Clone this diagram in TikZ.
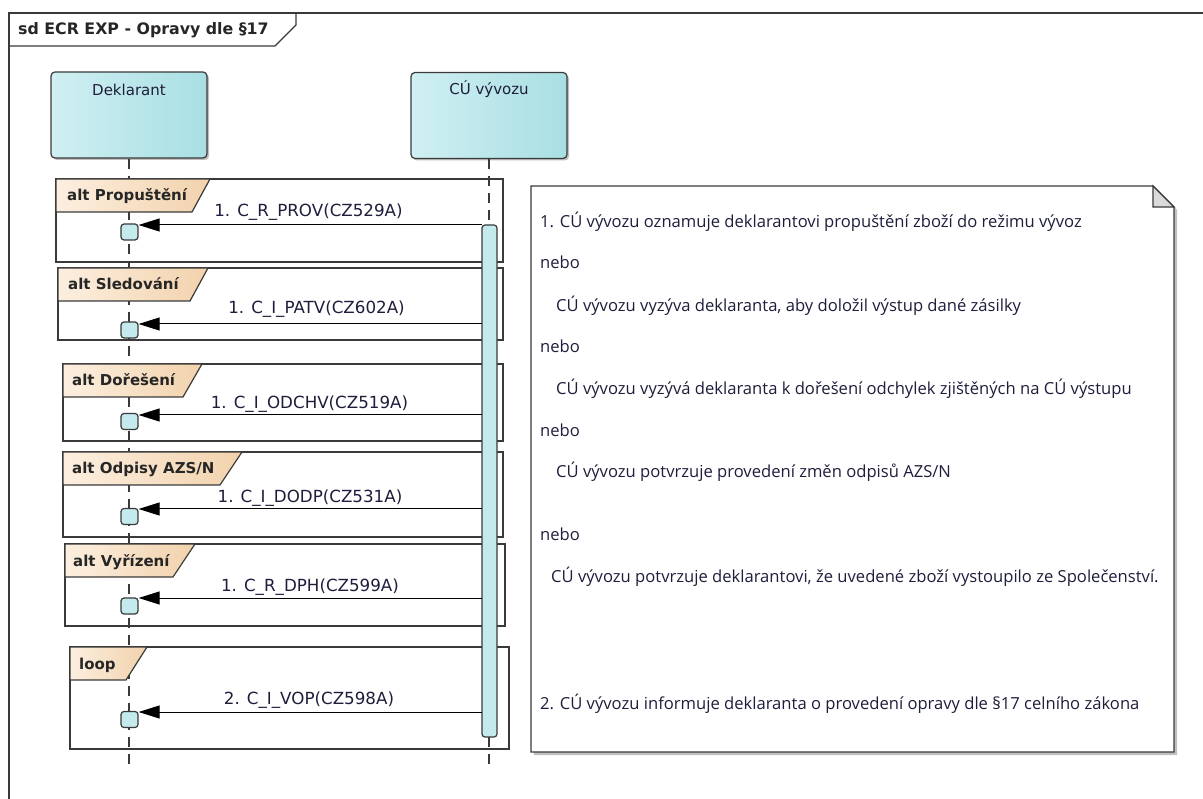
\documentclass[tikz,border=0pt]{standalone}
\usepackage{fontspec}
\setmainfont{DejaVu Sans}
\newfontfamily\notefont{Open Sans}
\usetikzlibrary{arrows.meta,shadows}
\definecolor{lbL}{HTML}{D0EFF2}
\definecolor{lbR}{HTML}{A8DFE3}
\definecolor{tabL}{HTML}{FCEFE0}
\definecolor{tabR}{HTML}{F2D2AC}
\definecolor{actfill}{HTML}{C4EAED}
\definecolor{edge}{HTML}{3A3A3A}
\definecolor{txt}{HTML}{1E1E3C}
\begin{document}
\begin{tikzpicture}[x=1pt,y=-1pt,
  lifebox/.style={draw=edge, line width=1.2pt, rounded corners=4pt, left color=lbL, right color=lbR,
     minimum width=156pt, minimum height=86pt, inner sep=0pt,
     drop shadow={shadow xshift=2pt, shadow yshift=-2pt, opacity=0.25, fill=black}},
  lname/.style={text=txt, font=\fontsize{15}{18}\selectfont, inner sep=0pt, anchor=base},
  lifeline/.style={draw=edge, line width=1.2pt, dash pattern=on 10pt off 7pt},
  frag/.style={draw=edge, line width=1.8pt},
  tabshape/.style={draw=edge, line width=1.2pt, left color=tabL, right color=tabR},
  tablabel/.style={font=\bfseries\fontsize{15}{18}\selectfont, text=black!85, anchor=base west, inner sep=0pt},
  actbar/.style={draw=edge, line width=1.2pt, fill=actfill, rounded corners=3pt, inner sep=0pt},
  recv/.style={draw=edge, line width=1.2pt, fill=actfill, rounded corners=3pt, minimum width=17pt, minimum height=16pt, inner sep=0pt},
  msg/.style={draw=black, line width=1pt, -{Triangle[length=21pt,width=13pt]}},
  mlabel/.style={font=\fontsize{16.7}{19}\selectfont, text=txt, inner sep=0pt, anchor=base},
  notetxt/.style={font=\notefont\fontsize{16.6}{19}\selectfont, text=txt, anchor=base west, inner sep=0pt},
  notebox/.style={draw=edge, line width=1.2pt, fill=white,
     drop shadow={shadow xshift=3pt, shadow yshift=-3pt, opacity=0.25, fill=black}}
]
\useasboundingbox (0,0) rectangle (1203,799);
\clip (0,0) rectangle (1203,799);
\fill[white] (0,0) rectangle (1203,799);

% frame
\draw[edge, line width=1.2pt] (9,13) rectangle (1220,820);
\draw[edge, line width=1.2pt] (9,46) -- (275,46) -- (296,25) -- (296,13);
\node[font=\bfseries\fontsize{15.8}{18}\selectfont, text=black!85, anchor=base west, inner sep=0pt] (title) at (18,35) {sd ECR EXP - Opravy dle §17};

% lifeline heads
\node[lifebox] (dek) at (129,115) {};
\node[lifebox] (cu) at (489,115.5) {};
\node[lname] (dekname) at (129,96) {Deklarant};
\node[lname] (cuname) at (489,95) {CÚ vývozu};

% lifelines
\coordinate (dend) at (129,764);
\coordinate (cend) at (489,764);
\draw[lifeline] (dek.south) -- (dend);
\draw[lifeline] (cu.south) -- (cend);

% fragments
\draw[frag] (56,179) rectangle (503,262);
\path[tabshape] (56,179) -- (210,179) -- (192,212) -- (56,212) -- cycle;
\node[tablabel] (t1) at (67,201) {alt Propuštění};

\draw[frag] (58,268) rectangle (503,340);
\path[tabshape] (58,268) -- (208,268) -- (190,301) -- (58,301) -- cycle;
\node[tablabel] (t2) at (68,290) {alt Sledování};

\draw[frag] (63,364) rectangle (503,441);
\path[tabshape] (63,364) -- (202,364) -- (183,397) -- (63,397) -- cycle;
\node[tablabel] (t3) at (72,386) {alt Dořešení};

\draw[frag] (63,452) rectangle (503,537);
\path[tabshape] (63,452) -- (242,452) -- (220,485) -- (63,485) -- cycle;
\node[tablabel] (t4) at (72,474) {alt Odpisy AZS/N};

\draw[frag] (65,544) rectangle (505,626);
\path[tabshape] (65,544) -- (195,544) -- (173,577) -- (65,577) -- cycle;
\node[tablabel] (t5) at (73,566) {alt Vyřízení};

\draw[frag] (70,647) rectangle (509,749);
\path[tabshape] (70,647) -- (147,647) -- (126,680) -- (70,680) -- cycle;
\node[tablabel] (t6) at (79,669) {loop};

% activation bar
\node[actbar, minimum width=15pt, minimum height=512pt] (act) at (489.5,481) {};

% receive boxes
\node[recv] (s1) at (129.5,232) {};
\node[recv] (s2) at (129.5,330) {};
\node[recv] (s3) at (129.5,421.5) {};
\node[recv] (s4) at (129.5,516.5) {};
\node[recv] (s5) at (129.5,606) {};
\node[recv] (s6) at (129.5,719.5) {};

% messages
\coordinate (a1) at (482,225);
\coordinate (a2) at (482,324);
\coordinate (a3) at (482,415);
\coordinate (a4) at (482,509);
\coordinate (a5) at (482,598);
\coordinate (a6) at (482,712);
\draw[msg] (a1) -- (a1 -| s1.east);
\draw[msg] (a2) -- (a2 -| s2.east);
\draw[msg] (a3) -- (a3 -| s3.east);
\draw[msg] (a4) -- (a4 -| s4.east);
\draw[msg] (a5) -- (a5 -| s5.east);
\draw[msg] (a6) -- (a6 -| s6.east);
\node[mlabel] (m1) at (308.5,217) {1. C\_R\_PROV(CZ529A)};
\node[mlabel] (m2) at (316.5,314) {1. C\_I\_PATV(CZ602A)};
\node[mlabel] (m3) at (309.5,409) {1. C\_I\_ODCHV(CZ519A)};
\node[mlabel] (m4) at (310,503) {1. C\_I\_DODP(CZ531A)};
\node[mlabel] (m5) at (310,591) {1. C\_R\_DPH(CZ599A)};
\node[mlabel] (m6) at (309,704) {2. C\_I\_VOP(CZ598A)};

% note
\path[notebox] (531,186) -- (1153,186) -- (1174,207) -- (1174,752) -- (531,752) -- cycle;
\draw[edge, line width=1.2pt, fill=black!14] (1153,186) -- (1153,207) -- (1174,207) -- cycle;
\node[notetxt] (n1) at (540,228) {1. CÚ vývozu oznamuje deklarantovi propuštění zboží do režimu vývoz};
\node[notetxt] (n2) at (540,269) {nebo};
\node[notetxt] (n3) at (556,312) {CÚ vývozu vyzýva deklaranta, aby doložil výstup dané zásilky};
\node[notetxt] (n4) at (540,353) {nebo};
\node[notetxt] (n5) at (556,395) {CÚ vývozu vyzývá deklaranta k dořešení odchylek zjištěných na CÚ výstupu};
\node[notetxt] (n6) at (540,437) {nebo};
\node[notetxt] (n7) at (556,478) {CÚ vývozu potvrzuje provedení změn odpisů AZS/N};
\node[notetxt] (n8) at (540,540) {nebo};
\node[notetxt] (n9) at (551,582) {CÚ vývozu potvrzuje deklarantovi, že uvedené zboží vystoupilo ze Společenství.};
\node[notetxt] (n10) at (540,709) {2. CÚ vývozu informuje deklaranta o provedení opravy dle §17 celního zákona};
\end{tikzpicture}
\end{document}
